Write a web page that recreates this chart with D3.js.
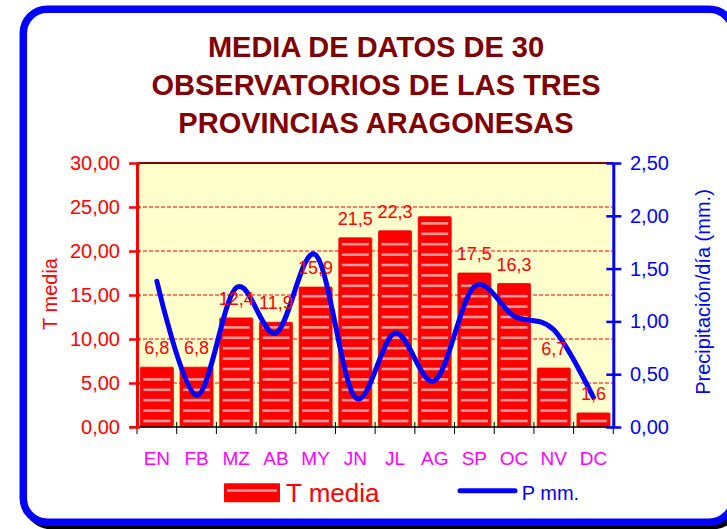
<!DOCTYPE html>
<html><head><meta charset="utf-8">
<script src="https://cdn.jsdelivr.net/npm/d3@7"></script>
<style>body{margin:0;background:#fff}svg{display:block}text{font-family:"Liberation Sans",Arial,sans-serif}</style>
</head><body><svg id="c" width="727" height="529"></svg>
<script>
const months=["EN","FB","MZ","AB","MY","JN","JL","AG","SP","OC","NV","DC"];
const tMedia=[6.8,6.8,12.4,11.9,15.9,21.5,22.3,23.9,17.5,16.3,6.7,1.6];
const tLabels=["6,8","6,8","12,4","11,9","15,9","21,5","22,3","","17,5","16,3","6,7","1,6"];
const pMM=[1.38,0.30,1.32,0.89,1.63,0.28,0.89,0.44,1.33,1.05,0.92,0.28];
const leftTicks=[0,5,10,15,20,25,30];
const rightTicks=[0,0.5,1,1.5,2,2.5];
const titleLines=["MEDIA DE DATOS DE 30","OBSERVATORIOS DE LAS TRES","PROVINCIAS ARAGONESAS"];

const svg=d3.select("#c");
const X0=137,X1=613.3,Y0=163,Y1=427;
const x=d3.scaleBand().domain(months).range([X0,X1]);
const yL=d3.scaleLinear().domain([0,30]).range([Y1,Y0]);
const yR=d3.scaleLinear().domain([0,2.5]).range([Y1,Y0]);
const fmt=d=>d.toFixed(2).replace('.',',');

// frame
svg.append("rect").attr("x",27).attr("y",12.5).attr("width",710).attr("height",513).attr("rx",24)
  .attr("fill","none").attr("stroke","#000").attr("stroke-width",7.5);
svg.append("rect").attr("x",23.3).attr("y",9.2).attr("width",710).attr("height",513).attr("rx",24)
  .attr("fill","#fff").attr("stroke","#0000ff").attr("stroke-width",7.5);

// title
svg.append("g").selectAll("text").data(titleLines).join("text")
  .attr("x",376).attr("y",(d,i)=>57+i*38).attr("text-anchor","middle")
  .attr("font-size",29).attr("font-weight","bold").attr("fill","#800000").text(d=>d);

// plot bg
svg.append("rect").attr("x",X0).attr("y",Y0).attr("width",X1-X0).attr("height",Y1-Y0).attr("fill","#ffffcc");
// gridlines
svg.append("g").selectAll("line").data(leftTicks.filter(d=>d>0&&d<30)).join("line")
  .attr("x1",X0).attr("x2",X1).attr("y1",d=>yL(d)).attr("y2",d=>yL(d))
  .attr("stroke","#ff0000").attr("stroke-width",1).attr("stroke-dasharray","4,2");
svg.append("line").attr("x1",X0).attr("x2",X1).attr("y1",Y0).attr("y2",Y0).attr("stroke","#800000").attr("stroke-width",2);

// bars
const bw=33;
const bars=svg.append("g");
months.forEach((m,i)=>{
  const bx=x(m)+(x.bandwidth()-bw)/2, top=yL(tMedia[i]);
  bars.append("rect").attr("x",bx).attr("y",top).attr("width",bw).attr("height",Y1-top)
    .attr("fill","#ff0000").attr("stroke","#f00000").attr("stroke-width",0.8).attr("rx",1);
  for(let yy=Y1-6; yy>top+4; yy-=10.4){
    bars.append("line").attr("x1",bx+3).attr("x2",bx+bw-3).attr("y1",yy).attr("y2",yy)
      .attr("stroke","#ff9a9a").attr("stroke-width",2.6);
  }
});

// x axis
svg.append("line").attr("x1",X0-7).attr("x2",X1).attr("y1",Y1).attr("y2",Y1).attr("stroke","#000").attr("stroke-width",1.5);
const bounds=months.map(m=>x(m)).concat([X1]);
svg.append("g").selectAll("line").data(bounds).join("line")
  .attr("x1",d=>d).attr("x2",d=>d).attr("y1",Y1-5).attr("y2",Y1+7).attr("stroke","#000").attr("stroke-width",1);
svg.append("g").selectAll("text").data(months).join("text")
  .attr("x",d=>x(d)+x.bandwidth()/2).attr("y",465).attr("text-anchor","middle")
  .attr("font-size",19).attr("fill","#ff00ff").text(d=>d);

// left axis
const gL=svg.append("g").attr("transform",`translate(${X0},0)`)
  .call(d3.axisLeft(yL).tickValues(leftTicks).tickFormat(fmt).tickSizeInner(8).tickSizeOuter(0).tickPadding(9));
gL.select(".domain").attr("stroke","#ff0000").attr("stroke-width",3);
gL.selectAll(".tick line").attr("stroke","#ff0000").attr("stroke-width",2.5).attr("x1",3);
gL.selectAll(".tick text").attr("fill","#ff0000").attr("font-size",20).attr("font-family",null);

// right axis
const gR=svg.append("g").attr("transform",`translate(${X1},0)`)
  .call(d3.axisRight(yR).tickValues(rightTicks).tickFormat(fmt).tickSizeInner(8).tickSizeOuter(0).tickPadding(8.7));
gR.select(".domain").attr("stroke","#0000ff").attr("stroke-width",3);
gR.selectAll(".tick line").attr("stroke","#0000ff").attr("stroke-width",2.5).attr("x1",-7);
gR.selectAll(".tick text").attr("fill","#0000ff").attr("font-size",20).attr("font-family",null);

// axis titles
svg.append("text").attr("transform","translate(57,294) rotate(-90)").attr("text-anchor","middle")
  .attr("font-size",20).attr("fill","#ff0000").text("T media");
svg.append("text").attr("transform","translate(709.5,292) rotate(-90)").attr("text-anchor","middle")
  .attr("font-size",20).attr("fill","#0000ff").text("Precipitación/día (mm.)");

// line
const line=d3.line().x((d,i)=>x(months[i])+x.bandwidth()/2).y(d=>yR(d)).curve(d3.curveCatmullRom.alpha(0));
svg.append("path").datum(pMM).attr("d",line).attr("fill","none").attr("stroke","#0000ff")
  .attr("stroke-width",5).attr("stroke-linecap","round").attr("stroke-linejoin","round");

// data labels
svg.append("g").selectAll("text").data(months).join("text")
  .attr("x",d=>x(d)+x.bandwidth()/2).attr("y",(d,i)=>yL(tMedia[i])-13).attr("text-anchor","middle")
  .attr("font-size",18).attr("fill","#ff0000").text((d,i)=>tLabels[i]);

// legend
svg.append("rect").attr("x",224).attr("y",483.3).attr("width",56).attr("height",19).attr("fill","#ff0000").attr("rx",1);
svg.append("line").attr("x1",227).attr("x2",277).attr("y1",490.5).attr("y2",490.5).attr("stroke","#ff9a9a").attr("stroke-width",2.6);
svg.append("text").attr("x",286).attr("y",501.5).attr("font-size",26).attr("fill","#ff0000").text("T media");
svg.append("line").attr("x1",460).attr("x2",515).attr("y1",490.7).attr("y2",490.7).attr("stroke","#0000ff").attr("stroke-width",5).attr("stroke-linecap","round");
svg.append("text").attr("x",521.7).attr("y",500).attr("font-size",20).attr("fill","#0000ff").text("P mm.");
</script></body></html>
